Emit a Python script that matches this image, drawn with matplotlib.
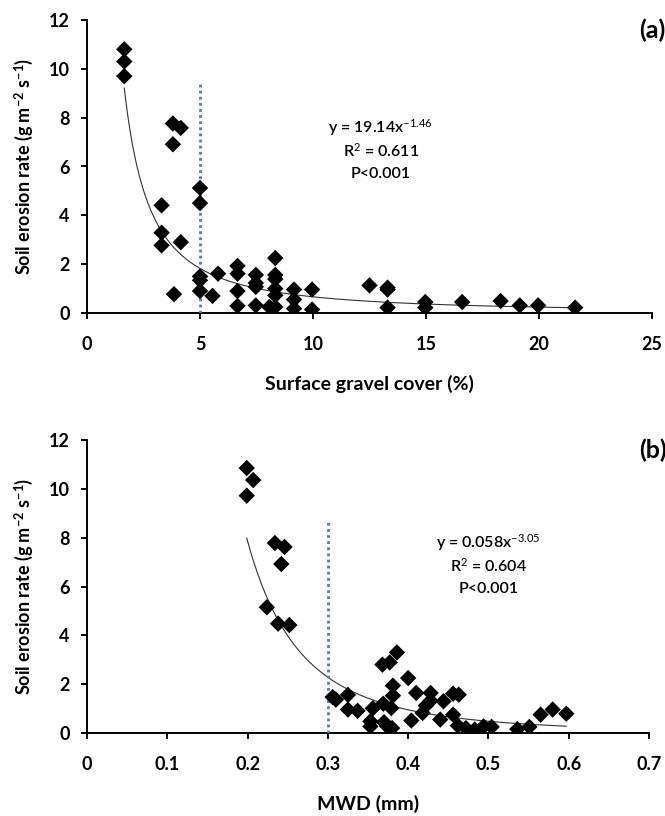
import matplotlib
matplotlib.use("Agg")
import matplotlib.pyplot as plt
import numpy as np

plt.rcParams['font.family'] = ['Lato', 'DejaVu Sans']
plt.rcParams['mathtext.fontset'] = 'custom'
plt.rcParams['mathtext.rm'] = 'Lato'
plt.rcParams['mathtext.it'] = 'Lato:italic'
plt.rcParams['mathtext.bf'] = 'Lato:bold'

# Panel (a): surface gravel cover (%) vs soil erosion rate
gravel_x = [1.65, 1.65, 1.65, 3.3, 3.3, 3.3, 3.8, 3.8, 3.85, 4.15, 4.15,
            5.0, 5.0, 5.0, 5.0, 5.0, 5.55, 5.8,
            6.66, 6.66, 6.66, 6.66, 7.47, 7.47, 7.47, 7.47, 8.07,
            8.33, 8.33, 8.33, 8.33, 8.33, 8.33, 9.16, 9.16, 9.16, 9.96, 9.96,
            12.5, 13.3, 13.3, 13.3, 14.97, 14.97, 16.6, 18.3, 19.15, 19.96, 21.6]
gravel_y = [10.8, 10.3, 9.7, 4.41, 3.29, 2.77, 7.76, 6.91, 0.77, 7.58, 2.9,
            5.12, 4.5, 1.5, 1.34, 0.9, 0.7, 1.61,
            1.93, 1.61, 0.9, 0.29, 1.56, 1.23, 1.07, 0.31, 0.25,
            2.25, 1.56, 1.39, 1.0, 0.72, 0.25, 0.96, 0.55, 0.18, 0.96, 0.14,
            1.13, 1.04, 0.96, 0.22, 0.45, 0.22, 0.45, 0.49, 0.31, 0.31, 0.22]
gravel_fit = (19.14, -1.46)
gravel_threshold = 5.0

# Panel (b): MWD (mm) vs soil erosion rate
mwd_x = [0.199, 0.207, 0.199, 0.234, 0.246, 0.242, 0.224, 0.238, 0.252,
         0.386, 0.368, 0.377, 0.400, 0.381, 0.381, 0.306, 0.325, 0.310,
         0.410, 0.428, 0.456, 0.463, 0.444, 0.428, 0.422, 0.356, 0.369,
         0.325, 0.337, 0.379, 0.418, 0.456, 0.404, 0.440, 0.565, 0.580, 0.597,
         0.353, 0.353, 0.370, 0.374, 0.380, 0.462, 0.472, 0.483, 0.494,
         0.504, 0.536, 0.551]
mwd_y = [10.85, 10.36, 9.72, 7.78, 7.62, 6.92, 5.15, 4.48, 4.42,
         3.30, 2.80, 2.89, 2.25, 1.94, 1.53, 1.47, 1.56, 1.37,
         1.64, 1.64, 1.61, 1.57, 1.30, 1.32, 1.12, 1.01, 1.20,
         0.96, 0.91, 1.02, 0.82, 0.75, 0.51, 0.55, 0.75, 0.96, 0.79,
         0.48, 0.27, 0.44, 0.27, 0.20, 0.30, 0.20, 0.14, 0.27,
         0.25, 0.16, 0.25]
mwd_fit = (0.058, -3.05)
mwd_threshold = 0.3

W, H = 665, 816
fig = plt.figure(figsize=(W / 100, H / 100), dpi=100)

ylabel = r'Soil erosion rate (g m$^{\mathbf{-2}}$ s$^{\mathbf{-1}}$)'


def panel(rect, xs, ys, fit, thr, thr_top, xlim, xticks, xticklabels, xlabel,
          tag, tag_y, eq_pos, eq_lines):
    ax = fig.add_axes(rect)
    xf = np.linspace(min(xs), max(xs), 300)
    ax.plot(xf, fit[0] * xf ** fit[1], color='#333333', lw=0.8, zorder=2)
    ax.plot([thr, thr], [0, thr_top], color='#4a7ebb', lw=2.0,
            linestyle=(0, (1, 1.2)), zorder=3)
    ax.scatter(xs, ys, marker='D', s=70, color='black', zorder=4,
               edgecolors='none')
    ax.set_xlim(*xlim)
    ax.set_ylim(0, 12)
    ax.set_xticks(xticks)
    ax.set_xticklabels(xticklabels)
    ax.set_yticks(range(0, 13, 2))
    for s in ['top', 'right']:
        ax.spines[s].set_visible(False)
    for s in ['left', 'bottom']:
        ax.spines[s].set_linewidth(1.4)
        ax.spines[s].set_color('black')
    ax.tick_params(direction='out', length=4.5, width=1.4, labelsize=13)
    ax.tick_params(axis='x', pad=12)
    ax.tick_params(axis='y', pad=8)
    for lab in ax.get_xticklabels() + ax.get_yticklabels():
        lab.set_fontweight('bold')
    ax.set_xlabel(xlabel, fontsize=14, fontweight='bold', labelpad=16)
    ax.set_ylabel(ylabel, fontsize=13, fontweight='bold', labelpad=10)
    ex, ey = eq_pos
    for i, line in enumerate(eq_lines):
        ax.text(ex, ey - i * 0.95, line, ha='center', va='center',
                fontsize=11.5, fontweight='semibold')
    fig.text(639 / W, 1 - tag_y / H, tag, fontsize=18, fontweight='bold',
             ha='left', va='center')
    return ax


panel([87 / W, 1 - 313 / H, 565 / W, 293 / H], gravel_x, gravel_y,
      gravel_fit, gravel_threshold, 9.5, (0, 25), [0, 5, 10, 15, 20, 25],
      ['0', '5', '10', '15', '20', '25'], 'Surface gravel cover (%)', '(a)', 30,
      (13.0, 7.6), [r'y = 19.14x$^{-1.46}$', r'R$^2$ = 0.611', 'P<0.001'])

panel([87 / W, 1 - 733 / H, 562 / W, 293 / H], mwd_x, mwd_y,
      mwd_fit, mwd_threshold, 8.67, (0, 0.7),
      [0, 0.1, 0.2, 0.3, 0.4, 0.5, 0.6, 0.7],
      ['0', '0.1', '0.2', '0.3', '0.4', '0.5', '0.6', '0.7'], 'MWD (mm)', '(b)', 450,
      (0.50, 7.78), [r'y = 0.058x$^{-3.05}$', r'R$^2$ = 0.604', 'P<0.001'])

fig.savefig('out.png', dpi=100)
